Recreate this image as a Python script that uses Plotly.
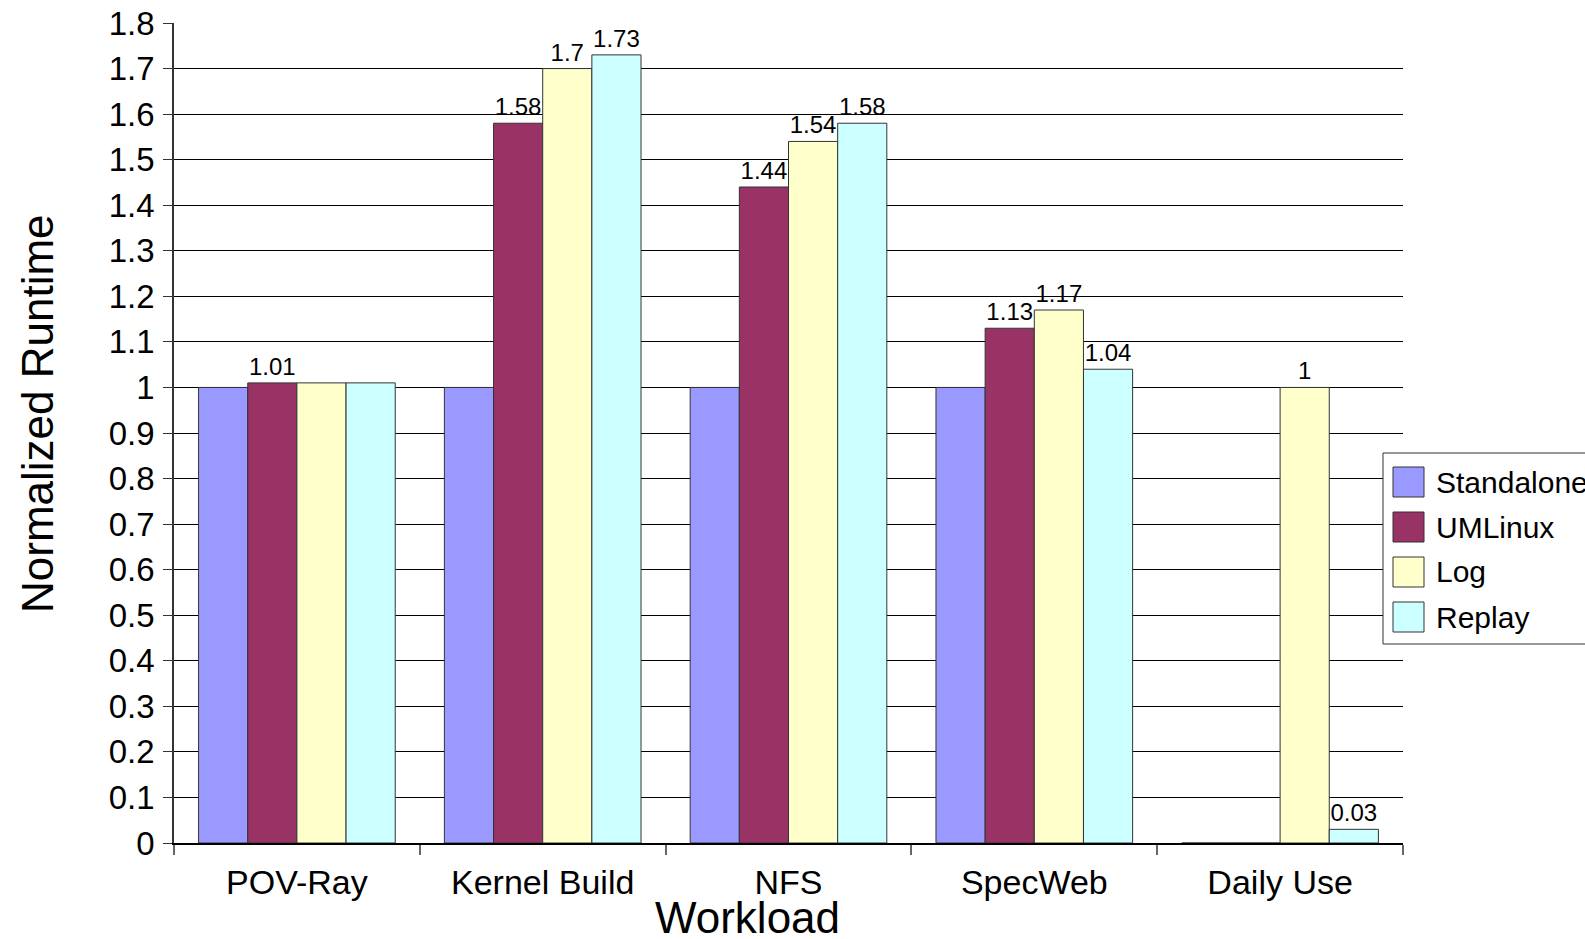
import plotly.graph_objects as go

categories = ["POV-Ray", "Kernel Build", "NFS", "SpecWeb", "Daily Use"]
series_names = ["Standalone", "UMLinux", "Log", "Replay"]
standalone = [1.0, 1.0, 1.0, 1.0, 0.0]
umlinux = [1.01, 1.58, 1.44, 1.13, 0.0]
log = [1.01, 1.70, 1.54, 1.17, 1.0]
replay = [1.01, 1.73, 1.58, 1.04, 0.03]
standalone_labels = ["", "", "", "", ""]
umlinux_labels = ["1.01", "1.58", "1.44", "1.13", ""]
log_labels = ["", "1.7", "1.54", "1.17", "1"]
replay_labels = ["", "1.73", "1.58", "1.04", "0.03"]
y_ticks = [round(i * 0.1, 1) for i in range(19)]

colors = ["#9999FF", "#993366", "#FFFFCC", "#CCFFFF"]
FONT = "Liberation Sans, Arial, sans-serif"

W, H = 1585, 939
L, R, T, B = 174, 182, 23, 96
PW, PH = W - L - R, H - T - B


def px_x(x):
    return (x - L) / PW


def px_y(y):
    return (H - B - y) / PH


fig = go.Figure()
values = [standalone, umlinux, log, replay]
labels = [standalone_labels, umlinux_labels, log_labels, replay_labels]
for name, vals, labs, col in zip(series_names, values, labels, colors):
    fig.add_trace(go.Bar(
        name=name, x=categories, y=vals, text=labs,
        textposition="outside", constraintext="none", cliponaxis=False,
        textfont=dict(family=FONT, size=24, color="black"),
        marker=dict(color=col, line=dict(color="#333333", width=1)),
        showlegend=False,
    ))

fig.update_layout(
    width=W, height=H,
    margin=dict(l=L, r=R, t=T, b=B, pad=0, autoexpand=False),
    paper_bgcolor="white", plot_bgcolor="white",
    barmode="group", bargap=0.2, bargroupgap=0,
    font=dict(family=FONT, color="black"),
)
fig.update_xaxes(
    type="category", tickson="boundaries", ticks="outside", ticklen=10,
    tickcolor="#666666", tickwidth=1.5, showline=True, linecolor="black", linewidth=1.5,
    tickfont=dict(family=FONT, size=34, color="black"), showgrid=False,
    ticklabelstandoff=8, automargin=False,
)
fig.update_yaxes(
    range=[0, 1.8], tickvals=y_ticks, ticks="outside", ticklen=9,
    tickcolor="#333333", tickwidth=1, showline=True, linecolor="#333333", linewidth=1.5,
    showgrid=True, gridcolor="black", gridwidth=1, zeroline=False,
    tickfont=dict(family=FONT, size=33, color="black"), ticklabelstandoff=2,
    automargin=False,
)

annotations = [
    dict(text="Normalized Runtime", textangle=-90, xref="paper", yref="paper",
         x=px_x(37), y=px_y(414), showarrow=False, xanchor="center", yanchor="middle",
         font=dict(family=FONT, size=44, color="black")),
    dict(text="Workload", xref="paper", yref="paper",
         x=px_x(747), y=px_y(917), showarrow=False, xanchor="center", yanchor="middle",
         font=dict(family=FONT, size=44, color="black")),
]

shapes = [dict(type="rect", xref="paper", yref="paper",
               x0=px_x(1383), x1=px_x(1700), y0=px_y(644), y1=px_y(453),
               line=dict(color="#333333", width=1), fillcolor="white", layer="above")]
for i, (name, col) in enumerate(zip(series_names, colors)):
    cy = 482 + 45 * i
    shapes.append(dict(type="rect", xref="paper", yref="paper",
                       x0=px_x(1393), x1=px_x(1424), y0=px_y(cy + 15), y1=px_y(cy - 15),
                       line=dict(color="#333333", width=1), fillcolor=col, layer="above"))
    annotations.append(dict(text=name, xref="paper", yref="paper", x=px_x(1434), y=px_y(cy),
                            showarrow=False, xanchor="left", yanchor="middle",
                            font=dict(family=FONT, size=30, color="black")))

fig.update_layout(shapes=shapes, annotations=annotations)
fig.write_html("out.html")
